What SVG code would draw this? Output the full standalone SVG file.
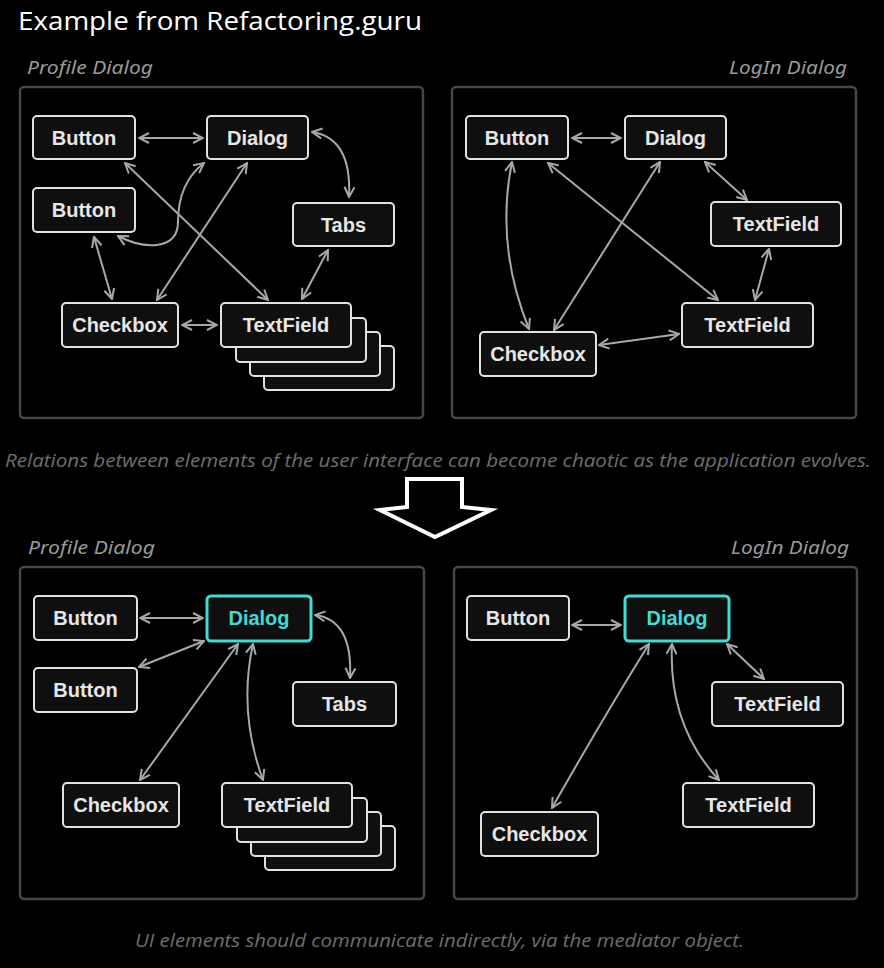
<svg xmlns="http://www.w3.org/2000/svg" width="884" height="968" viewBox="0 0 884 968">
<style>
.frame{fill:#000;stroke:#464646;stroke-width:2.5}
.node rect{fill:#0f0f0f;stroke:#e2e2e2;stroke-width:2}
.node text{font-family:"Liberation Sans",Arial,sans-serif;font-weight:bold;font-size:20px;fill:#e6e6e6;text-anchor:middle}
.med rect{stroke:#3fdcd4;stroke-width:3}
.med text{fill:#3fdcd4}
.lbl{font-family:"Noto Sans","Open Sans",sans-serif;font-style:italic;font-size:18px;fill:#9a9a9a}
.cap{font-family:"Open Sans","Noto Sans",sans-serif;font-style:italic;font-size:18px;fill:#6e6e6e}
.conn path{fill:none;stroke:#a8a8a8;stroke-width:2;marker-start:url(#ah);marker-end:url(#ah)}
</style>
<defs>
<marker id="ah" viewBox="0 0 12 12" refX="11" refY="6" markerWidth="12" markerHeight="12" markerUnits="userSpaceOnUse" orient="auto-start-reverse">
<path d="M1,1 L11,6 L1,11" fill="none" stroke="#a8a8a8" stroke-width="2"/>
</marker>
</defs>
<rect width="884" height="968" fill="#000"/>
<text x="18" y="30" font-family="Open Sans, sans-serif" font-size="25" fill="#fff" textLength="404" lengthAdjust="spacingAndGlyphs">Example from Refactoring.guru</text>

<g id="top-profile">
<text class="lbl" x="27" y="74" textLength="126" lengthAdjust="spacingAndGlyphs">Profile Dialog</text>
<rect class="frame" x="20" y="87" width="403" height="331" rx="4"/>
</g>
<g id="top-login">
<text class="lbl" x="847" y="74" text-anchor="end" textLength="118" lengthAdjust="spacingAndGlyphs">LogIn Dialog</text>
<rect class="frame" x="452" y="87" width="404" height="331" rx="4"/>
</g>

<g id="connectors-top" class="conn">
<path d="M139,138 L203,138"/>
<path d="M312,132 Q352,138 349,197"/>
<path d="M125,163 L268,300"/>
<path d="M247,163 L157,300"/>
<path d="M204,163 C182,180 178,205 178,222 C178,250 145,250 118,236"/>
<path d="M94,237 L112,299"/>
<path d="M328,250 L302,299"/>
<path d="M182,325 L217,325"/>
<path d="M572,138 L621,138"/>
<path d="M548,163 L718,300"/>
<path d="M660,162 L554,330"/>
<path d="M512,162 Q495,245 529,329"/>
<path d="M705,162 L747,200"/>
<path d="M769,249 L755,300"/>
<path d="M599,345 L679,334"/>
</g>

<g id="tp-button1" class="node"><rect x="33" y="116" width="102" height="43" rx="4"/><text x="84" y="145">Button</text></g>
<g id="tp-dialog" class="node"><rect x="207" y="116" width="101" height="43" rx="4"/><text x="257.5" y="145">Dialog</text></g>
<g id="tp-button2" class="node"><rect x="33" y="188" width="102" height="44" rx="4"/><text x="84" y="217">Button</text></g>
<g id="tp-tabs" class="node"><rect x="293" y="203" width="101" height="43" rx="4"/><text x="343.5" y="232">Tabs</text></g>
<g id="tp-checkbox" class="node"><rect x="62" y="303" width="116" height="44" rx="4"/><text x="120" y="332">Checkbox</text></g>
<g id="tp-textfield" class="node">
<rect x="264" y="346" width="130" height="44" rx="4"/>
<rect x="250" y="332" width="130" height="44" rx="4"/>
<rect x="236" y="318" width="130" height="44" rx="4"/>
<rect x="221" y="303" width="130" height="44" rx="4"/><text x="286" y="332">TextField</text></g>

<g id="tl-button" class="node"><rect x="466" y="116" width="102" height="43" rx="4"/><text x="517" y="145">Button</text></g>
<g id="tl-dialog" class="node"><rect x="625" y="116" width="101" height="43" rx="4"/><text x="675.5" y="145">Dialog</text></g>
<g id="tl-textfield1" class="node"><rect x="711" y="202" width="130" height="44" rx="4"/><text x="776" y="231">TextField</text></g>
<g id="tl-textfield2" class="node"><rect x="682" y="303" width="131" height="44" rx="4"/><text x="747.5" y="332">TextField</text></g>
<g id="tl-checkbox" class="node"><rect x="480" y="332" width="116" height="44" rx="4"/><text x="538" y="361">Checkbox</text></g>

<text class="cap" x="5" y="467" textLength="866" lengthAdjust="spacingAndGlyphs">Relations between elements of the user interface can become chaotic as the application evolves.</text>

<polygon points="407,479 462,479 462,507 491,510 435,537 380,510 407,507" fill="#000" stroke="#fff" stroke-width="4" stroke-linejoin="miter"/>

<g id="bottom-profile">
<text class="lbl" x="28" y="554" textLength="127" lengthAdjust="spacingAndGlyphs">Profile Dialog</text>
<rect class="frame" x="20" y="567" width="404" height="332" rx="4"/>
</g>
<g id="bottom-login">
<text class="lbl" x="849" y="554" text-anchor="end" textLength="118" lengthAdjust="spacingAndGlyphs">LogIn Dialog</text>
<rect class="frame" x="454" y="567" width="403" height="332" rx="4"/>
</g>

<g id="connectors-bottom" class="conn">
<path d="M140,618 L203,618"/>
<path d="M139,667 L204,641"/>
<path d="M315,615 Q353,620 350,678"/>
<path d="M238,644 L140,780"/>
<path d="M253,644 Q238,712 263,780"/>
<path d="M572,625 L621,625"/>
<path d="M727,644 L764,679"/>
<path d="M649,644 Q603,718 552,808"/>
<path d="M672,644 Q668,725 719,780"/>
</g>

<g id="bp-button1" class="node"><rect x="34" y="596" width="103" height="44" rx="4"/><text x="85.5" y="625">Button</text></g>
<g id="bp-dialog" class="node med"><rect x="207" y="596" width="104" height="45" rx="4"/><text x="259" y="625">Dialog</text></g>
<g id="bp-button2" class="node"><rect x="34" y="668" width="103" height="44" rx="4"/><text x="85.5" y="697">Button</text></g>
<g id="bp-tabs" class="node"><rect x="293" y="682" width="103" height="44" rx="4"/><text x="344.5" y="711">Tabs</text></g>
<g id="bp-checkbox" class="node"><rect x="63" y="783" width="116" height="44" rx="4"/><text x="121" y="812">Checkbox</text></g>
<g id="bp-textfield" class="node">
<rect x="265" y="826" width="130" height="44" rx="4"/>
<rect x="251" y="812" width="130" height="44" rx="4"/>
<rect x="237" y="798" width="130" height="44" rx="4"/>
<rect x="222" y="783" width="130" height="44" rx="4"/><text x="287" y="812">TextField</text></g>

<g id="bl-button" class="node"><rect x="467" y="596" width="102" height="44" rx="4"/><text x="518" y="625">Button</text></g>
<g id="bl-dialog" class="node med"><rect x="625" y="596" width="104" height="45" rx="4"/><text x="677" y="625">Dialog</text></g>
<g id="bl-textfield1" class="node"><rect x="712" y="682" width="131" height="44" rx="4"/><text x="777.5" y="711">TextField</text></g>
<g id="bl-textfield2" class="node"><rect x="683" y="783" width="131" height="44" rx="4"/><text x="748.5" y="812">TextField</text></g>
<g id="bl-checkbox" class="node"><rect x="481" y="812" width="117" height="44" rx="4"/><text x="539.5" y="841">Checkbox</text></g>

<text class="cap" x="135" y="947" textLength="609" lengthAdjust="spacingAndGlyphs">UI elements should communicate indirectly, via the mediator object.</text>
</svg>
